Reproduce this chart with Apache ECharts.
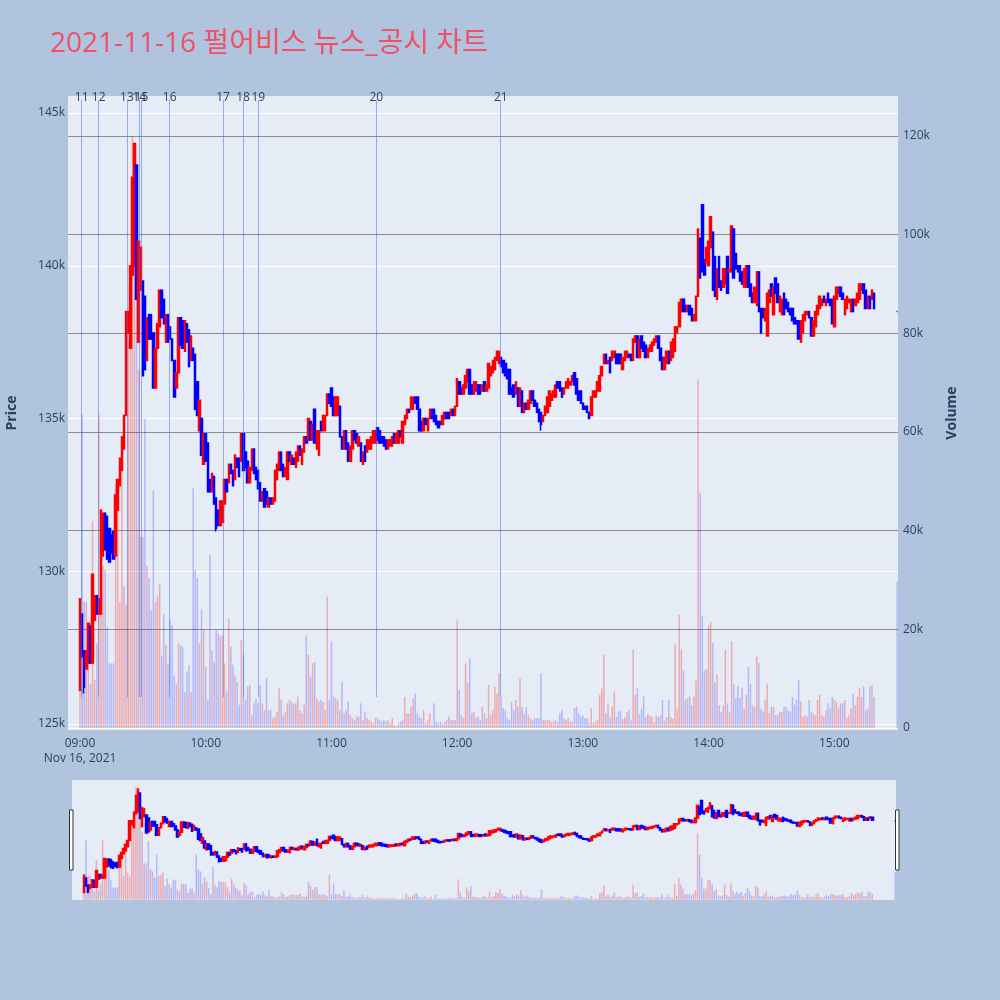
<!DOCTYPE html>
<html>
<head>
<meta charset="utf-8">
<title>펄어비스 뉴스_공시 차트</title>
<script src="https://cdn.jsdelivr.net/npm/echarts@6.0.0/dist/echarts.min.js"></script>
<style>
html,body{margin:0;padding:0;background:#b0c4de;}
#chart{width:1000px;height:1000px;}
</style>
</head>
<body>
<div id="chart"></div>
<script>
// 1-minute bars from 09:00, [open, close] in thousand won
var candleOpenClose = [
[126.1,129.1],[128.6,127.2],[127.4,126.2],[126.8,127.4],[127.0,128.3],[128.2,127.0],[127.0,129.9],[128.4,129.2],[129.2,128.6],[128.6,129.1],
[128.6,132.0],[130.5,131.9],[131.9,130.7],[131.8,130.4],[131.4,130.3],[131.2,130.6],[131.3,130.4],[130.5,132.5],[132.0,133.0],[132.8,133.7],
[133.3,134.4],[134.0,135.1],[135.1,138.5],[137.8,138.5],[137.3,140.0],[139.7,142.9],[140.0,144.0],[143.3,138.9],[137.5,140.8],[139.2,140.6],
[139.5,136.4],[139.0,136.6],[136.9,138.3],[138.4,137.6],[138.4,137.6],[137.8,136.0],[136.0,137.3],[137.3,138.1],[138.0,139.2],[139.2,138.3],
[138.9,138.1],[137.5,138.4],[138.4,137.5],[138.0,137.6],[137.6,136.9],[136.9,135.7],[136.0,136.5],[136.5,138.3],[138.3,137.4],[138.2,137.3],
[137.2,138.2],[138.1,137.5],[137.9,136.7],[136.9,137.7],[137.3,136.9],[137.1,135.3],[136.2,135.1],[134.6,135.6],[135.0,133.8],[133.5,134.5],
[134.5,133.6],[134.2,132.6],[133.0,132.6],[132.6,133.2],[133.1,132.2],[132.4,131.4],[132.0,131.5],[131.5,132.3],[131.6,132.3],[132.2,133.0],
[133.0,132.6],[132.9,133.5],[133.5,133.2],[133.3,132.8],[133.0,133.8],[133.7,133.4],[133.7,133.1],[133.6,134.5],[134.5,133.3],[133.9,133.4],
[133.6,132.9],[132.9,133.4],[133.3,134.0],[134.0,133.2],[133.4,133.0],[133.3,132.7],[132.9,132.3],[132.3,132.6],[132.7,132.1],[132.6,132.2],
[132.1,132.4],[132.4,132.2],[132.2,132.4],[132.3,133.3],[133.0,133.5],[133.3,133.9],[133.9,133.3],[133.5,133.1],[133.1,133.4],[133.0,133.9],
[133.9,133.6],[133.5,133.8],[133.7,133.5],[133.4,133.9],[133.6,134.1],[134.1,133.8],[133.5,134.0],[133.9,134.4],[134.4,134.2],[134.3,135.0],
[134.9,134.3],[134.3,134.8],[135.3,134.2],[134.0,134.6],[133.8,134.6],[134.9,134.6],[134.6,135.1],[134.6,135.1],[135.1,135.8],[135.8,135.5],
[136.0,135.4],[135.7,135.1],[135.1,135.7],[135.1,135.7],[135.4,134.4],[134.4,134.0],[134.0,134.6],[134.6,134.0],[134.2,133.6],[133.6,134.1],
[134.0,134.6],[134.6,134.3],[134.5,134.2],[134.1,134.4],[134.2,133.6],[133.5,133.9],[134.1,133.6],[133.9,134.3],[134.0,134.3],[134.0,134.4],
[134.2,134.6],[134.2,134.6],[134.7,134.3],[134.6,134.2],[134.4,134.2],[134.4,134.1],[134.3,134.0],[134.0,134.3],[134.1,134.3],[134.1,134.4],
[134.5,134.2],[134.2,134.5],[134.2,134.6],[134.6,134.4],[134.2,134.9],[134.8,135.1],[135.0,135.3],[135.3,135.2],[135.3,135.7],[135.3,135.7],
[135.7,135.5],[135.7,135.3],[135.3,134.6],[134.9,134.6],[134.6,135.0],[135.0,134.8],[134.6,135.0],[135.0,135.3],[135.3,135.0],[135.3,134.9],
[135.1,134.8],[134.9,134.7],[134.9,134.8],[134.8,135.1],[135.0,135.2],[135.2,135.0],[135.2,135.0],[135.1,135.3],[135.3,135.1],[135.1,135.4],
[135.4,136.3],[136.2,135.8],[136.0,135.8],[135.8,136.1],[136.0,136.4],[136.2,136.6],[136.6,135.8],[136.1,135.8],[135.8,136.2],[135.9,136.2],
[136.1,135.8],[136.1,135.8],[135.9,136.1],[136.2,135.9],[135.9,136.1],[136.0,136.8],[136.4,136.7],[136.5,136.9],[136.6,137.0],[136.9,137.2],
[136.8,137.2],[137.0,136.7],[136.9,136.5],[136.8,136.4],[136.6,136.3],[136.6,135.8],[136.0,135.8],[136.1,135.7],[135.8,136.2],[136.0,135.4],
[135.4,136.0],[135.9,135.2],[135.2,135.5],[135.5,135.3],[135.3,135.6],[135.5,135.9],[135.9,135.6],[135.6,135.4],[135.5,135.2],[135.3,134.9],
[135.2,134.8],[134.9,135.1],[135.1,135.4],[135.2,135.7],[135.4,135.9],[135.6,135.8],[135.7,135.9],[135.7,136.1],[136.2,136.0],[136.2,135.9],
[136.0,135.7],[135.8,136.0],[136.0,136.2],[136.0,136.3],[136.1,136.2],[136.2,136.4],[136.5,136.1],[136.3,135.8],[135.9,135.6],[135.9,135.5],
[135.5,135.3],[135.4,135.3],[135.4,135.2],[135.2,135.0],[135.1,135.7],[135.7,135.9],[135.7,135.9],[135.9,136.2],[135.9,136.4],[136.4,136.7],
[136.8,137.1],[137.1,136.8],[136.8,136.9],[137.0,136.5],[136.9,137.2],[137.0,137.2],[137.1,136.8],[137.1,136.8],[137.1,136.8],[136.6,137.0],
[136.9,137.2],[137.0,137.2],[137.1,137.0],[137.1,136.9],[136.9,137.6],[137.5,137.7],[137.7,137.0],[137.0,137.6],[137.7,137.3],[137.5,137.2],
[137.4,137.0],[137.0,137.3],[137.2,137.4],[137.2,137.5],[137.4,137.6],[137.5,137.7],[137.7,137.3],[137.3,136.9],[137.0,136.6],[136.6,137.0],
[136.8,137.2],[137.2,136.8],[136.9,137.5],[137.0,137.6],[137.2,138.0],[137.8,138.0],[138.0,138.8],[138.5,138.9],[138.9,138.5],[138.7,138.5],
[138.5,138.7],[138.7,138.4],[138.6,138.2],[138.2,138.4],[138.2,139.0],[139.0,141.2],[140.9,139.6],[142.0,139.8],[140.2,139.7],[140.1,140.6],
[140.0,140.8],[140.6,141.6],[141.1,139.2],[140.3,139.0],[138.9,139.9],[140.3,139.3],[139.5,139.2],[139.3,139.9],[139.4,139.9],[140.3,139.1],
[139.8,139.9],[139.8,141.3],[141.2,139.6],[140.4,139.9],[140.0,139.8],[140.0,139.5],[139.8,139.4],[139.3,139.9],[139.3,140.0],[140.0,139.3],
[139.4,139.0],[139.1,138.8],[138.8,139.3],[138.7,139.8],[139.8,138.5],[138.6,137.8],[138.6,138.3],[138.2,138.6],[137.7,139.1],[138.8,139.2],
[139.4,139.0],[138.4,139.3],[139.6,139.1],[139.4,138.8],[138.5,139.0],[138.4,138.9],[139.1,138.4],[138.9,138.6],[138.8,138.5],[138.6,138.4],
[138.6,138.2],[138.3,138.1],[138.2,138.1],[138.2,137.6],[137.5,138.2],[137.8,138.4],[138.2,138.5],[138.4,138.5],[138.5,138.3],[138.3,137.7],
[137.7,138.2],[138.0,138.5],[138.4,138.7],[138.6,139.0],[138.7,138.9],[139.0,138.8],[138.7,138.9],[139.1,138.8],[138.9,138.7],[138.9,138.1],
[138.0,139.0],[138.9,139.3],[139.1,139.3],[139.3,139.0],[139.1,138.9],[138.4,138.9],[138.6,139.0],[138.8,138.9],[138.5,138.9],[138.9,138.5],
[138.7,138.9],[138.8,139.1],[138.9,139.4],[139.2,139.4],[139.4,139.1],[139.2,138.6],[138.6,139.0],[139.0,138.6],[138.9,139.2],[139.1,138.6]
];
// lower wicks that stick out of the body (minute index: low)
var wickLows = {2: 126.0, 65: 131.3, 220: 134.6};

// volume per minute, thousand shares
var volumes = [
17.2,63.5,25.5,25.5,20.5,8.9,42,9.8,17.2,63.5,
42.8,32.9,32.1,20.5,13.1,13.1,13.1,49.5,47.8,25.5,
55.2,28.8,25,79.2,77.6,120.7,118,113,72.6,38.7,
38.7,62.7,32.9,30.4,23.8,48.2,25.5,26.7,29.2,14.7,
23,16.8,13.1,21.8,20.9,10.6,8.9,17.2,16.8,16.4,
7.3,11.4,12.7,7.3,48.6,32.1,30.4,17.2,24,19.9,
12.4,5.7,35.1,15.8,13.4,19.9,19.2,18.5,18.8,13.1,
7.4,22.2,16.5,12.8,10.7,9.4,4.7,17.8,15.1,5.7,
8.4,8.7,2.6,5,6,5,8.7,5,3.6,10.1,
3.6,3.6,2,2.3,3.3,8,5.7,2.6,3.3,5,
5.7,5.3,5,5,6.4,3.6,3,4.7,18.8,14.8,
10.4,13.1,13.4,6,5.3,5.7,5.3,3.6,26.6,5.7,
17.5,6.4,6,5.7,3.6,9.4,3,3.6,5.3,2.6,
2,1.6,2.3,2.3,5,1.6,3.3,2,1.6,1.3,
0.9,2,2,1.6,1.3,1.6,1.3,1.6,0.9,2,
0.6,0.3,0.9,1.3,1.6,6.3,3,3,4.3,6,
7,3,2.3,2,3.6,0.9,1.6,3,0.6,5,
1.3,0.9,1.3,0.9,1.3,1.6,2.3,1.6,1.6,1.6,
21.8,7.7,2.6,2,13.1,9.1,14.1,3,3.3,2,
2.3,1.6,4.3,3,2,8.7,2.6,3.6,8.4,7,
11.1,6.4,4,3.6,2,1.6,5.3,3.6,5.7,4.3,
10.1,4.3,3,4.3,2.6,2,1.6,2,2,2,
11.1,1.6,1.6,1.6,1.6,1.3,1.3,1.6,1.3,3,
3.6,2,1.6,2,1.3,1.3,4,4.3,3,2.3,
2.6,2,2,1,4,1,1.3,1.6,6.7,8,
14.8,3,5,2.3,4.3,7.4,2.3,3.3,3.6,1.8,
2.2,3.2,3.6,1.5,15.9,6.7,8.1,2.9,3.9,6.4,
2.2,2.9,2.5,2.2,1.1,2.5,2.2,2.5,5.7,1.5,
2.2,5.7,2.2,1.8,16.9,3.9,22.9,15.9,11.7,5.7,
6.1,6.4,4.6,6.4,9.6,70.7,47.7,22.8,11.7,11.9,
20.8,21.5,17.3,9.2,10.9,4.6,3.2,4.6,15.9,5,
3.2,17.6,8.9,6.1,8.5,6.1,8.2,3.9,6.7,12.4,
8.9,4.6,4.3,14.5,13.1,3.9,3.3,5.7,9.0,3.0,
4.3,4.3,2.6,2.6,3.3,3.3,4.3,4.3,3.6,3.3,
6.3,4.7,5.7,9.7,5.3,2.3,2.6,2.3,5.7,3.3,
3.0,2.6,5.7,6.7,2.6,2.3,3.6,5.0,4.0,6.3,
5.7,5.3,4.0,5.0,5.0,5.7,2.0,2.6,4.0,7.0,
4.7,6.3,8.0,6.3,8.4,3.6,4.0,8.4,8.7,6.3
];

// 15:30 closing auction
var auctionMinute = 390;
var auctionOpenClose = [138.5, 138.5];
var auctionVolume = 29.7;

// news / disclosure markers (minutes after 09:00), drawn from 125.88k up to 145.43k
var newsLabels = ['11','12','13','14','15','16','17','18','19','20','21'];
var newsMinutes = [0.8, 8.9, 22.4, 28.3, 29.3, 42.8, 68.3, 77.8, 85.1, 141.4, 200.8];
var newsSpan = [125.88, 145.43];

var timeLabels = ['09:00','10:00','11:00','12:00','13:00','14:00','15:00'];
var timeTickMinutes = [0, 60, 120, 180, 240, 300, 360];
var dateLabel = 'Nov 16, 2021';
var titleText = '2021-11-16 펄어비스 뉴스_공시 차트';

var upColor = '#ff0000', downColor = '#0000ff';
var xMin = -5.73, xMax = 390.4;
var font = '"Open Sans", "Noto Sans CJK KR", sans-serif';
var axisColor = '#2a3f5f';

var ohlc = [];
var volBars = [];
candleOpenClose.forEach(function (oc, i) {
    var lo = Math.min(oc[0], oc[1]), hi = Math.max(oc[0], oc[1]);
    if (wickLows[i] != null) lo = wickLows[i];
    ohlc.push([i, oc[0], oc[1], lo, hi]);
    volBars.push({value: [i, volumes[i]], itemStyle: {color: oc[1] > oc[0] ? 'rgba(255,0,0,0.28)' : 'rgba(0,0,255,0.22)'}});
});
ohlc.push([auctionMinute, auctionOpenClose[0], auctionOpenClose[1], auctionOpenClose[1], auctionOpenClose[0]]);
volBars.push({value: [auctionMinute, auctionVolume], itemStyle: {color: 'rgba(0,0,255,0.22)'}});

var newsLines = newsMinutes.map(function (m, i) {
    return [{name: newsLabels[i], coord: [m, newsSpan[0]]}, {coord: [m, newsSpan[1]]}];
});

var candleStyle = {color: upColor, color0: downColor, borderColor: upColor, borderColor0: downColor, borderWidth: 1.5};

var dom = document.getElementById('chart');
var myChart = echarts.init(dom);
var option = {
    backgroundColor: '#b0c4de',
    animation: false,
    title: {
        text: titleText,
        left: 50,
        top: 30,
        padding: 0,
        textStyle: {color: '#ef5068', fontSize: 28, fontWeight: 'normal', fontFamily: font}
    },
    grid: [
        {left: 68, right: 102, top: 113, height: 611, outerBoundsMode: 'none'},
        {left: 68, right: 102, top: 136, height: 592, outerBoundsMode: 'none'},
        {left: 68, right: 102, top: 96, height: 634, show: true, backgroundColor: '#e5ecf6', borderWidth: 0, z: 0, outerBoundsMode: 'none'},
        {left: 72, right: 104, top: 780, height: 120, show: true, backgroundColor: '#e5ecf6', borderWidth: 0, z: 0, outerBoundsMode: 'none'}
    ],
    xAxis: [
        {gridIndex: 0, type: 'value', min: xMin, max: xMax, show: false},
        {
            gridIndex: 1, type: 'value', min: xMin, max: xMax,
            axisLine: {show: false}, axisTick: {show: false}, splitLine: {show: false},
            axisLabel: {
                customValues: timeTickMinutes,
                margin: 8,
                color: axisColor,
                fontSize: 12,
                lineHeight: 15,
                fontFamily: font,
                formatter: function (v) {
                    var i = Math.round(v / 60);
                    return i === 0 ? timeLabels[0] + '\n' + dateLabel : timeLabels[i];
                }
            }
        },
        {gridIndex: 2, type: 'value', min: xMin, max: xMax, show: false},
        {gridIndex: 3, type: 'value', min: xMin, max: xMax, show: false}
    ],
    yAxis: [
        {
            gridIndex: 0, type: 'value', min: 125, max: 145, interval: 5, position: 'left',
            axisLine: {show: false}, axisTick: {show: false},
            axisLabel: {formatter: '{value}k', color: axisColor, fontSize: 12, margin: 3, fontFamily: font},
            splitLine: {lineStyle: {color: '#ffffff', width: 1}}
        },
        {
            gridIndex: 1, type: 'value', min: 0, max: 120, interval: 20, position: 'right',
            axisLine: {show: false}, axisTick: {show: false},
            axisLabel: {
                color: axisColor, fontSize: 12, margin: 5, fontFamily: font,
                formatter: function (v) { return v === 0 ? '0' : v + 'k'; }
            },
            splitLine: {lineStyle: {color: ['#ffffff', '#8c8c8c', '#8c8c8c', '#8c8c8c', '#8c8c8c', '#8c8c8c', '#8c8c8c'], width: 1}}
        },
        {
            // full plot-height price scale, carries the axis title and the news lines
            gridIndex: 2, type: 'value', min: 124.80, max: 145.56, position: 'left',
            axisLine: {show: false}, axisTick: {show: false}, axisLabel: {show: false}, splitLine: {show: false},
            name: 'Price', nameLocation: 'middle', nameGap: 49,
            nameTextStyle: {color: axisColor, fontSize: 14, fontWeight: 'bold', fontFamily: font}
        },
        {
            gridIndex: 2, type: 'value', min: 0, max: 1, position: 'right',
            axisLine: {show: false}, axisTick: {show: false}, axisLabel: {show: false}, splitLine: {show: false},
            name: 'Volume', nameLocation: 'middle', nameGap: 47,
            nameTextStyle: {color: axisColor, fontSize: 14, fontWeight: 'bold', fontFamily: font}
        },
        {gridIndex: 3, type: 'value', min: 124.8, max: 145.56, show: false},
        {gridIndex: 3, type: 'value', min: -0.4, max: 128.1, show: false}
    ],
    series: [
        {
            name: 'Volume', type: 'bar', xAxisIndex: 1, yAxisIndex: 1,
            barWidth: 1.5, data: volBars, z: 2
        },
        {
            name: 'news', type: 'line', xAxisIndex: 2, yAxisIndex: 2, data: [], z: 2,
            markLine: {
                silent: true,
                symbol: ['none', 'none'],
                lineStyle: {color: 'rgba(65,105,225,0.5)', width: 1, type: 'solid'},
                label: {show: true, position: 'end', distance: -4, formatter: '{b}', color: axisColor, fontSize: 12, fontFamily: font},
                emphasis: {disabled: true},
                data: newsLines
            }
        },
        {
            name: 'Price', type: 'candlestick', xAxisIndex: 0, yAxisIndex: 0,
            encode: {x: 0, y: [1, 2, 3, 4]},
            barWidth: 2, data: ohlc, itemStyle: candleStyle, z: 3
        },
        {
            name: 'VolumeMini', type: 'bar', xAxisIndex: 3, yAxisIndex: 5,
            barWidth: 1.5, data: volBars, z: 2
        },
        {
            name: 'PriceMini', type: 'candlestick', xAxisIndex: 3, yAxisIndex: 4,
            encode: {x: 0, y: [1, 2, 3, 4]},
            barWidth: 2, data: ohlc, itemStyle: candleStyle, z: 3
        }
    ],
    graphic: [
        {type: 'rect', z: 100, shape: {x: 69.5, y: 810, width: 3.5, height: 60}, style: {fill: '#ffffff', stroke: '#333333', lineWidth: 1}},
        {type: 'rect', z: 100, shape: {x: 895.5, y: 810, width: 3.5, height: 60}, style: {fill: '#ffffff', stroke: '#333333', lineWidth: 1}}
    ]
};
if (option && typeof option == "object") {
    myChart.setOption(option, true);
}
</script>
</body>
</html>
